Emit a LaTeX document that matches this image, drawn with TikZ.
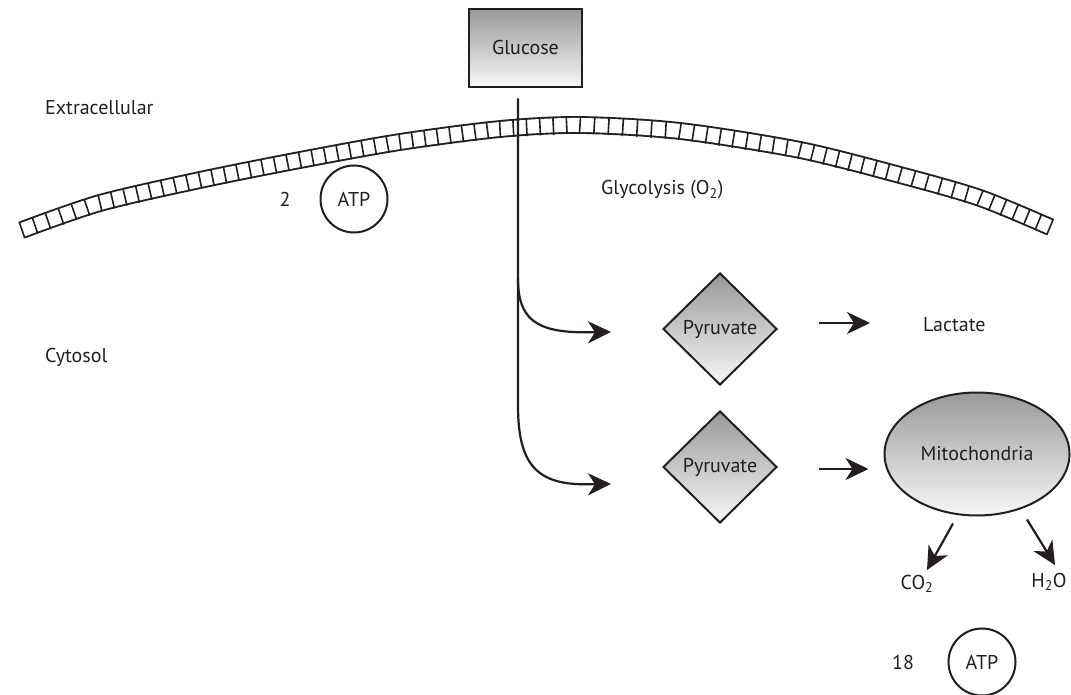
\documentclass[tikz,border=0pt]{standalone}
\usepackage{fontspec}
\setmainfont{PT Sans}
\usetikzlibrary{shapes.geometric,arrows.meta,calc}
\definecolor{ink}{HTML}{231F20}
\begin{document}
\begin{tikzpicture}[x=1pt,y=-1pt,
  every node/.style={text=ink, inner sep=0pt, font=\fontsize{20}{24}\selectfont},
  grad/.style={top color=black!40, bottom color=black!3, draw=ink, line width=2pt},
  conn/.style={draw=ink, line width=2.2pt},
  arr/.style={conn, -{Stealth[length=23pt,width=22pt,inset=7pt]}},
  rail/.style={draw=ink, line width=1.9pt, double=white, double distance=14pt},
  rung/.style={draw=ink, line width=1.6pt},
  ring/.style={circle, draw=ink, line width=2pt, minimum size=67pt},
  lbl/.style={anchor=west}
]
\useasboundingbox (0,0) rectangle (1071,695);
\fill[white] (0,0) rectangle (1071,695);

% membrane rails
\draw[rail] plot[smooth, tension=0.5] coordinates {(22,230) (100,203) (200,180) (300,160) (400,142) (500,129) (580,125) (680,131) (800,150) (900,175) (980,198) (1050,227)};
% membrane rungs
\foreach \xa/\ya/\xb/\yb in {22/230/100/203, 100/203/200/180, 200/180/300/160, 300/160/400/142, 400/142/500/129, 500/129/580/125, 580/125/680/131, 680/131/800/150, 800/150/900/175, 900/175/980/198, 980/198/1050/227}{
  \pgfmathsetmacro\L{veclen(\xb-\xa,\yb-\ya)}
  \pgfmathtruncatemacro\n{round(\L/13.4)}
  \pgfmathsetmacro\s{\L/\n}
  \pgfmathtruncatemacro\m{\n-1}
  \foreach \i in {0,...,\m}{
    \coordinate (P) at ($(\xa,\ya)!{\i*\s/\L}!(\xb,\yb)$);
    \draw[rung] ($(P)!8.5pt!90:(\xb,\yb)$) -- ($(P)!8.5pt!-90:(\xb,\yb)$);
  }
}
\coordinate (Pe) at (1050,227);
\draw[rung] ($(Pe)!8.5pt!90:(980,198)$) -- ($(Pe)!8.5pt!-90:(980,198)$);

% nodes
\node[grad, line width=2.6pt, minimum width=113pt, minimum height=78pt] (glu) at (525.5,48) {Glucose};
\node[lbl] (ext) at (45,108) {Extracellular};
\node[lbl] (cyt) at (45,357) {Cytosol};
\node (two) at (285,199) {2};
\node[ring] (atp1) at (354,199) {ATP};
\node[lbl] (gly) at (601,190) {Glycolysis (O\textsubscript{2})};
\node[grad, diamond, aspect=1, minimum width=114pt, minimum height=112pt] (pyr1) at (720,329) {Pyruvate};
\node[grad, diamond, aspect=1, minimum width=114pt, minimum height=112pt] (pyr2) at (720,467) {Pyruvate};
\node[lbl] (lac) at (923,325) {Lactate};
\node[grad, ellipse, minimum width=185pt, minimum height=123pt] (mito) at (977,454) {Mitochondria};
\node (co2) at (917,584) {CO\textsubscript{2}};
\node (h2o) at (1049,582) {H\textsubscript{2}O};
\node (n18) at (903,662) {18};
\node[ring] (atp2) at (982,662) {ATP};

% glucose trunk and branches
\coordinate (top) at ($(glu.south)+(-7.5,10)$);
\coordinate (br1) at ($(top)+(0,180)$);
\coordinate (tip1) at ($(pyr1.west)+(-51,3)$);
\coordinate (tip2) at ($(pyr2.west)+(-51,17)$);
\draw[arr] (top) -- ($(top)+(0,307)$) .. controls ($(top)+(0,364)$) and ($(top)+(17,386)$) .. ($(top)+(67,386)$) -- (tip2);
\draw[arr] (br1) .. controls ($(br1)+(0,40)$) and ($(br1)+(17,54)$) .. ($(br1)+(67,54)$) -- (tip1);

% arrows
\draw[arr, shorten <=41pt, shorten >=53pt] ($(pyr1.east)+(0,-6)$) -- ($(pyr1.east -| lac.west)+(0,-6)$);
\draw[arr, shorten <=41pt, shorten >=15pt] ($(pyr2.east)+(0,2)$) -- ($(pyr2.east -| mito.west)+(0,2)$);
\draw[arr] ($(mito.south)+(-24,7)$) -- ($(co2)+(10,-14)$);
\draw[arr] ($(mito.south)+(50,3)$) -- ($(h2o)+(6,-17)$);
\end{tikzpicture}
\end{document}
